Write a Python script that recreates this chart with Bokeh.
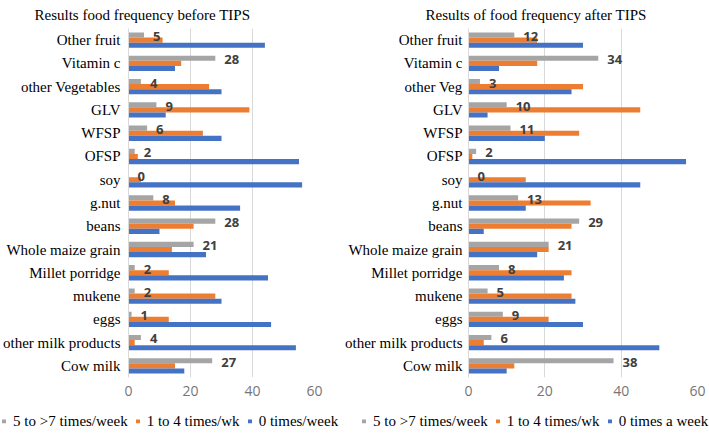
from bokeh.plotting import figure
from bokeh.models import FactorRange, Range1d, Legend, LegendItem, ColumnDataSource, FixedTicker
from bokeh.transform import dodge
from bokeh.layouts import row, column
from bokeh.embed import file_html
from bokeh.resources import INLINE

cats_before = ["Other fruit", "Vitamin c", "other Vegetables", "GLV", "WFSP", "OFSP", "soy",
               "g.nut", "beans", "Whole maize grain", "Millet porridge", "mukene", "eggs",
               "other milk products", "Cow milk"]
cats_after = ["Other fruit", "Vitamin c", "other Veg", "GLV", "WFSP", "OFSP", "soy",
              "g.nut", "beans", "Whole maize grain", "Millet porridge", "mukene", "eggs",
              "other milk products", "Cow milk"]

before_5to7 = [5, 28, 4, 9, 6, 2, 0, 8, 28, 21, 2, 2, 1, 4, 27]
before_1to4 = [11, 17, 26, 39, 24, 3, 4, 15, 21, 14, 13, 28, 13, 2, 15]
before_0 = [44, 15, 30, 12, 30, 55, 56, 36, 10, 25, 45, 30, 46, 54, 18]

after_5to7 = [12, 34, 3, 10, 11, 2, 0, 13, 29, 21, 8, 5, 9, 6, 38]
after_1to4 = [18, 18, 30, 45, 29, 1, 15, 32, 27, 21, 27, 27, 21, 4, 12]
after_0 = [30, 8, 27, 5, 20, 57, 45, 15, 4, 18, 25, 28, 30, 50, 10]

legend_before = ["5 to >7 times/week", "1 to 4 times/wk", "0 times/week"]
legend_after = ["5 to >7 times/week", "1 to 4 times/wk", "0 times a week"]

x_ticks = [0, 20, 40, 60]

GREY = "#A5A5A5"
ORANGE = "#ED7D31"
BLUE = "#4472C4"
COLORS = [GREY, ORANGE, BLUE]
SERIF = "Liberation Serif"
MAIN_H = 408
LEG_H = 26


def make_panel(title, cats, g, o, b, width, left, right, title_offset, standoff):
    src = ColumnDataSource(dict(cat=cats, g=g, o=o, b=b, lab=[str(v) for v in g]))
    p = figure(width=width, height=MAIN_H, output_backend="svg", toolbar_location=None,
               y_range=FactorRange(factors=cats[::-1], range_padding=0),
               x_range=Range1d(0, 60),
               min_border_left=left, min_border_right=right,
               min_border_top=28, min_border_bottom=MAIN_H - 377)
    h = 0.22
    p.hbar(y=dodge("cat", h, range=p.y_range), left=0, right="g", height=h,
           source=src, fill_color=GREY, line_color=None)
    p.hbar(y=dodge("cat", 0, range=p.y_range), left=0, right="o", height=h,
           source=src, fill_color=ORANGE, line_color=None)
    p.hbar(y=dodge("cat", -h, range=p.y_range), left=0, right="b", height=h,
           source=src, fill_color=BLUE, line_color=None)
    p.text(x="g", y=dodge("cat", h, range=p.y_range), text="lab", source=src,
           x_offset=9, y_offset=1.5, text_align="left", text_baseline="middle",
           text_font={"value": "Open Sans"}, text_font_style="bold",
           text_font_size="13px", text_color="#404040")

    p.title.text = title
    p.title.text_font = SERIF
    p.title.text_font_size = "15px"
    p.title.text_font_style = "normal"
    p.title.text_color = "#000000"
    p.title.align = "left"
    p.title.vertical_align = "top"
    p.title.offset = title_offset
    p.title.standoff = 8

    p.outline_line_color = None
    p.ygrid.grid_line_color = None
    p.xgrid.grid_line_color = "#D9D9D9"
    p.xgrid.ticker = FixedTicker(ticks=x_ticks)

    xa = p.xaxis[0]
    xa.ticker = FixedTicker(ticks=x_ticks)
    xa.axis_line_color = None
    xa.major_tick_line_color = None
    xa.minor_tick_line_color = None
    xa.major_tick_out = 0
    xa.major_label_text_font = "Open Sans"
    xa.major_label_text_font_size = "14px"
    xa.major_label_text_color = "#767676"
    xa.major_label_standoff = 8

    ya = p.yaxis[0]
    ya.axis_line_color = "#D9D9D9"
    ya.major_tick_line_color = None
    ya.minor_tick_line_color = None
    ya.major_tick_out = 0
    ya.major_label_text_font = SERIF
    ya.major_label_text_font_size = "15px"
    ya.major_label_text_color = "#000000"
    ya.major_label_standoff = standoff
    return p


def make_legend(width, labels, x0):
    lf = figure(width=width, height=LEG_H, output_backend="svg", toolbar_location=None,
                x_range=Range1d(0, 1), y_range=Range1d(0, 1), min_border=0,
                x_axis_location=None, y_axis_location=None)
    lf.grid.grid_line_color = None
    lf.outline_line_color = None
    items = []
    for lab, col in zip(labels, COLORS):
        r = lf.hbar(y=[5], right=[5], left=[4], height=0.1, fill_color=col, line_color=None)
        items.append(LegendItem(label=lab, renderers=[r]))
    legend = Legend(items=items, orientation="horizontal", location="left",
                    glyph_width=5, glyph_height=5, label_height=5, label_standoff=7,
                    spacing=7, padding=0, margin=x0, border_line_color=None,
                    background_fill_alpha=0, label_text_font=SERIF,
                    label_text_font_size="15px", label_text_color="#000000")
    lf.add_layout(legend, "center")
    return lf


W1, W2 = 342, 367
p1 = make_panel("Results food frequency before TIPS", cats_before,
                before_5to7, before_1to4, before_0, W1, 126, W1 - 314, -94, 8)
p2 = make_panel("Results of food frequency after TIPS", cats_after,
                after_5to7, after_1to4, after_0, W2, 124, W2 - 355, -43, 6)
l1 = make_legend(W1, legend_before, 1)
l2 = make_legend(W2, legend_after, 19)

layout = column(row(p1, p2), row(l1, l2))
open("out.html", "w").write(file_html(layout, INLINE))
